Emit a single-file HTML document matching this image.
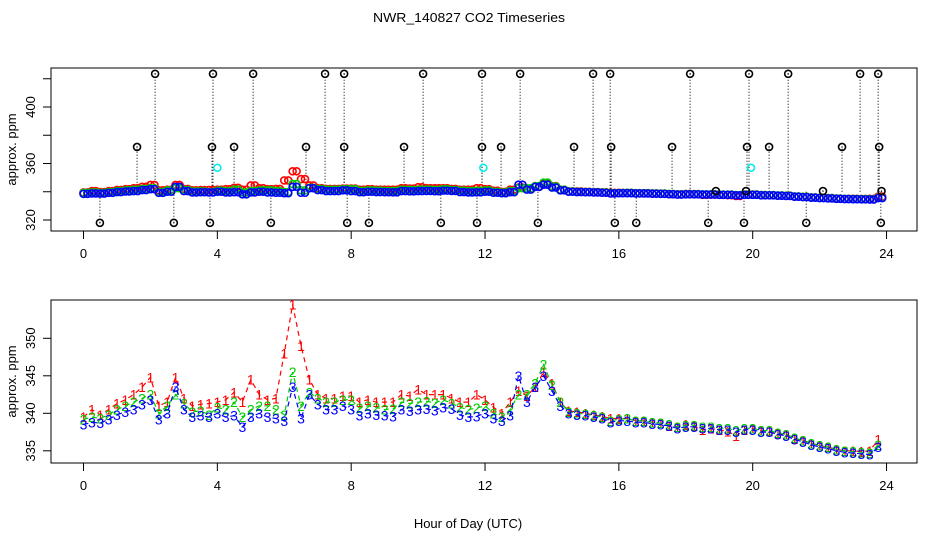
<!DOCTYPE html>
<html><head><meta charset="utf-8"><style>
body{margin:0;background:#fff;}
svg text{font-family:"Liberation Sans",sans-serif;}
</style></head><body>
<svg id="chart" width="936" height="540" viewBox="0 0 936 540" xmlns="http://www.w3.org/2000/svg">
<rect x="0" y="0" width="936" height="540" fill="#fff"/>
<text x="469" y="22" font-size="13" text-anchor="middle" textLength="192" lengthAdjust="spacingAndGlyphs">NWR_140827  CO2 Timeseries</text>
<g id="top"></g>
<g id="bot"></g>
<text x="468" y="528" font-size="13" text-anchor="middle">Hour of Day (UTC)</text>
</svg>
<script>
const hours = [];
for (let i = 0; i <= 95; i++) hours.push(i / 4);
const blueVals = [338.5,338.8,338.7,339.2,339.8,340.2,340.5,341.2,341.8,339.2,340.0,343.5,340.5,339.5,339.7,339.5,
340.0,339.5,339.7,338.2,339.5,340.0,339.5,339.3,339.0,343.5,339.3,342.5,341.2,340.5,340.5,341.0,
340.5,339.7,340.0,339.8,339.7,339.6,340.5,340.3,340.5,340.6,340.4,340.8,340.6,339.8,339.5,339.6,
340.0,339.3,339.0,339.7,345.0,341.5,343.5,345.0,343.0,341.0,340.0,339.8,339.7,339.5,339.3,338.8,
339.0,339.0,338.8,338.8,338.6,338.5,338.3,338.0,338.2,338.2,338.0,338.0,337.8,337.8,337.5,337.8,
337.8,337.5,337.5,337.2,337.0,336.5,336.2,335.8,335.5,335.3,335.0,334.8,334.7,334.6,334.5,335.5];
const greenVals = [339.2,339.5,339.3,339.8,340.5,341.0,341.5,342.0,342.5,340.0,341.0,342.5,341.3,340.2,340.3,339.8,
340.8,340.5,341.5,339.5,340.5,341.0,341.0,340.5,339.8,345.5,341.0,342.8,342.0,341.5,341.5,341.8,
341.8,340.7,341.0,340.8,340.5,340.6,341.5,341.3,341.5,341.6,341.4,341.8,341.3,340.8,340.5,340.7,
341.0,340.0,339.5,340.5,342.5,342.5,344.0,346.5,343.8,341.5,340.2,340.0,339.9,339.7,339.5,339.0,
339.2,339.3,339.0,339.0,338.8,338.7,338.5,338.2,338.4,338.4,338.2,338.2,338.0,338.0,337.7,338.0,
338.0,337.7,337.7,337.4,337.2,336.7,336.4,336.0,335.7,335.5,335.2,335.0,334.9,334.8,334.7,335.8];
const redVals = [339.5,340.5,339.8,340.5,341.3,341.8,342.5,343.5,344.8,341.0,341.5,344.8,342.0,341.0,341.2,341.3,
341.5,341.8,342.8,341.5,344.5,342.5,341.8,342.0,348.0,354.5,349.0,344.5,342.5,342.0,342.0,342.3,
342.3,341.5,341.8,341.5,341.5,341.5,342.5,342.3,343.2,342.5,342.5,342.5,342.0,341.5,341.5,342.5,
341.8,340.8,340.0,341.5,343.0,342.3,343.5,345.5,344.0,341.5,340.3,340.2,340.0,339.8,339.6,339.3,
339.3,339.3,339.0,339.0,338.8,338.7,338.3,338.2,338.5,338.3,337.8,338.0,337.8,337.6,337.0,337.8,
338.0,337.7,337.6,337.3,337.2,336.6,336.4,336.0,335.7,335.5,335.2,335.0,335.0,334.9,335.0,336.5];
const outHours = [2.14,3.87,5.07,7.22,7.79,10.15,11.91,13.05,15.23,15.74,18.13,19.89,21.06,23.21,23.75,
1.60,3.84,4.50,6.65,7.79,9.58,11.91,12.48,14.66,15.77,17.59,19.83,20.49,22.67,23.78,
0.49,2.70,3.78,5.60,7.88,8.53,10.68,11.76,13.58,15.88,16.52,18.67,19.74,21.60,23.83,
18.9,22.1,23.85,19.8];
const outVals = [423.5,423.5,423.5,423.5,423.5,423.5,423.5,423.5,423.5,423.5,423.5,423.5,423.5,423.5,423.5,
371.7,371.7,371.7,371.7,371.7,371.7,371.7,371.7,371.7,371.7,371.7,371.7,371.7,371.7,371.7,
318,318,318,318,318,318,318,318,318,318,318,318,318,318,318,
340.5,340.5,340.5,340.5];
const cyanHours = [4.0, 11.95, 19.95];
const cyanVals = [357, 357, 357];
const xTicks = [0,4,8,12,16,20,24];
const topYTicks = [320,340,360,380,400,420];
const topYLabels = [320,360,400];
const botYTicks = [335,340,345,350];

const NS = "http://www.w3.org/2000/svg";
function mk(parent, tag, attrs){const e=document.createElementNS(NS,tag);for(const k in attrs)e.setAttribute(k,attrs[k]);parent.appendChild(e);return e;}
const xs = h => 83.5 + h * 33.46;
const yTop = v => 220 - (v - 320) * 1.4125;
const yBot = v => 413.3 - (v - 340) * 7.5;

function axes(g, top, bottom, yFn, yTicks, yLabels, prefix){
  let e = mk(g,'rect',{x:51,y:top,width:866,height:bottom-top,fill:'none',stroke:'#000','stroke-width':1});
   
  xTicks.forEach(t=>{
    let l = mk(g,'line',{x1:xs(t),x2:xs(t),y1:bottom,y2:bottom+8,stroke:'#000'});
     
    let tx = mk(g,'text',{x:xs(t),y:bottom+27,'font-size':13,'text-anchor':'middle'});
    tx.textContent = t;
     
  });
  yTicks.forEach(v=>{
    let l = mk(g,'line',{x1:43,x2:51,y1:yFn(v),y2:yFn(v),stroke:'#000'});
     
  });
  yLabels.forEach(v=>{
    let tx = mk(g,'text',{x:0,y:0,'font-size':13,'text-anchor':'middle',transform:`translate(35,${yFn(v)}) rotate(-90)`});
    tx.textContent = v;
     
  });
  let yt = mk(g,'text',{x:0,y:0,'font-size':13,'text-anchor':'middle',transform:`translate(16,${(top+bottom)/2}) rotate(-90)`});
  yt.textContent = 'approx. ppm';
   
}

// TOP PANEL
const gt = document.getElementById('top');
axes(gt, 68, 231, yTop, topYTicks, topYLabels, 'top');
const clipT = mk(gt,'clipPath',{id:'ct'}); mk(clipT,'rect',{x:51,y:68,width:866,height:163});
const gtc = mk(gt,'g',{'clip-path':'url(#ct)'});
outHours.forEach((h,i)=>{
  let l = mk(gtc,'line',{x1:xs(h),x2:xs(h),y1:yTop(340),y2:yTop(outVals[i]),stroke:'#000','stroke-width':1,'stroke-dasharray':'1,2'});
   
});
[[redVals,'#f00','red'],[greenVals,'#0c0','green'],[blueVals,'#00f','blue']].forEach(([arr,col,nm])=>{
  arr.forEach((v,i)=>{
    if(v==null) return;
    for(let k=0;k<2;k++){
      let c = mk(gtc,'circle',{cx:xs(hours[i]+k*0.12),cy:yTop(v),r:3.5,fill:'none',stroke:col,'stroke-width':1.6});
       
    }
  });
});
outHours.forEach((h,i)=>{
  let c = mk(gtc,'circle',{cx:xs(h),cy:yTop(outVals[i]),r:3.5,fill:'none',stroke:'#000','stroke-width':1.6});
   
  let d = mk(gtc,'circle',{cx:xs(h),cy:yTop(outVals[i]),r:0.7,fill:'#000'});
   
});
cyanHours.forEach((h,i)=>{
  let c = mk(gtc,'circle',{cx:xs(h),cy:yTop(cyanVals[i]),r:3.5,fill:'none',stroke:'#0ee','stroke-width':1.6});
   
});

// BOTTOM PANEL
const gb = document.getElementById('bot');
axes(gb, 300, 463, yBot, botYTicks, botYTicks, 'bottom');
[[redVals,'#f00','1','red'],[greenVals,'#0c0','2','green'],[blueVals,'#00f','3','blue']].forEach(([arr,col,ch,nm])=>{
  const pts = arr.map((v,i)=>`${xs(hours[i]).toFixed(1)},${yBot(v).toFixed(1)}`).join(' ');
  let p = mk(gb,'polyline',{points:pts,fill:'none',stroke:col,'stroke-width':1.2,'stroke-dasharray':'5,4'});
   
  arr.forEach((v,i)=>{
    let t = mk(gb,'text',{x:xs(hours[i]),y:yBot(v)+5,'font-size':14,'text-anchor':'middle',fill:col});
    t.textContent = ch;
     
  });
});
</script>
</body></html>
